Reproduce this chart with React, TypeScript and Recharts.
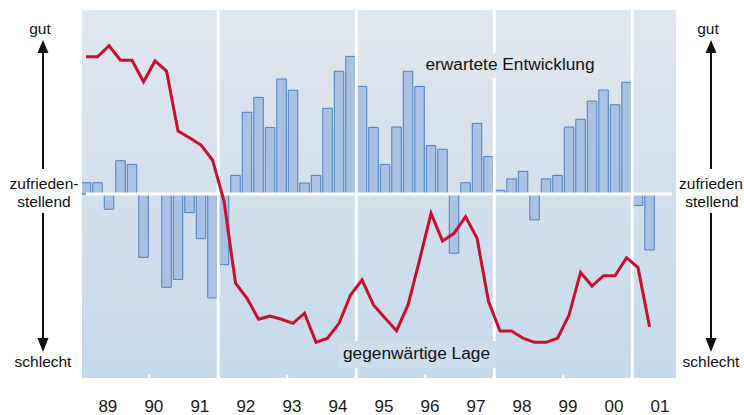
import { ComposedChart, Bar, Line, XAxis, YAxis, ReferenceLine } from 'recharts';

// quarterly index values, 89 Q1 .. 01 Q2 (0 = "zufriedenstellend")
const erwartet = [
  6.1, 6.1, -8.3, 18.1, 16.1, -34.4, 0, -50.7, -46.4, -10.1, -24.3, -56.5,
  -38.4, 10.1, 44.4, 52.5, 36.2, 62.5, 56.4, 6.0, 10.1, 46.6, 66.7, 74.8,
  58.5, 36.2, 16.1, 36.4, 66.7, 58.5, 26.3, 24.3, -32.2, 6.1, 38.4, 20.3,
  2.0, 8.2, 12.3, -14.1, 8.2, 10.1, 36.4, 40.6, 50.5, 56.5, 48.5, 60.7,
  -6.2, -30.4,
];

const lage = [
  74.6, 74.6, 80.6, 72.7, 72.7, 61.0, 72.3, 66.8, 34.2, 30.6, 26.6, 18.5,
  -4, -48.5, -56.7, -68.1, -66.3, -68.1, -70.3, -64.8, -80.6, -78.4, -70.3, -54.9,
  -46.7, -60.3, -67.4, -74.3, -60.3, -35.9, -10.5, -25.5, -21.4, -12.3, -24.1, -58.5,
  -74.5, -74.5, -78.4, -80.6, -80.6, -78.4, -65.8, -42.6, -50, -44.4, -44.4, -34.6,
  -40, -72.1,
];

const years = ['89', '90', '91', '92', '93', '94', '95', '96', '97', '98', '99', '00', '01'];

// white separators every three years, small ticks in between
const separators = [11.5, 23.5, 35.5, 47.5];
const minorTicks = [5.5, 17.5, 29.5, 41.5];

const W = 744;
const H = 415;
const FONT = '"Liberation Sans", Arial, sans-serif';

const data = erwartet.map((v, i) => ({ q: i, erwartet: v, lage: lage[i] }));
const yearTicks = years.map((_, k) => 1.9 + k * 4);

function Side({ cx, right }: { cx: number; right?: boolean }) {
  return (
    <g fontFamily={FONT} fontSize={15.5} fill="#111" textAnchor="middle">
      <text x={cx - 3} y={34}>gut</text>
      <polygon points={`${cx},40 ${cx - 5.5},53 ${cx + 5.5},53`} fill="#111" />
      <line x1={cx} y1={52} x2={cx} y2={169} stroke="#111" strokeWidth={2} />
      {/* the right-hand copy runs into the page edge, hyphen lost */}
      <text x={right ? cx : cx + 1} y={189}>{right ? 'zufrieden' : 'zufrieden-'}</text>
      <text x={cx + 1} y={207}>stellend</text>
      <line x1={cx} y1={213} x2={cx} y2={339} stroke="#111" strokeWidth={2} />
      <polygon points={`${cx},352 ${cx - 5.5},338 ${cx + 5.5},338`} fill="#111" />
      <text x={cx} y={367}>schlecht</text>
    </g>
  );
}

export default function App() {
  return (
    <div style={{ position: 'fixed', left: 0, top: 0, width: W, height: H, background: '#fff' }}>
      {/* plot background */}
      <div
        style={{
          position: 'absolute', left: 82, top: 10, width: 594, height: 368,
          background: 'linear-gradient(#e0e6ee, #c6daeb)',
        }}
      />
      <div style={{ position: 'absolute', left: 0, top: 0 }}>
        <ComposedChart width={W} height={H} data={data} margin={{ top: 10, right: 68, left: 82, bottom: 0 }}>
          <XAxis
            dataKey="q"
            type="number"
            domain={[-0.35, 51.3]}
            allowDataOverflow
            ticks={yearTicks}
            tickFormatter={(v: number) => years[Math.round((v - 1.9) / 4)]}
            axisLine={false}
            tickLine={false}
            tickMargin={16}
            height={37}
            tick={{ fontSize: 17, fill: '#1a1a1a', fontFamily: FONT }}
          />
          <YAxis hide domain={[-100, 100]} allowDataOverflow />
          {separators.map((x) => (
            <ReferenceLine key={x} x={x} stroke="#fff" strokeWidth={3} />
          ))}
          {minorTicks.map((x) => (
            <ReferenceLine
              key={'m' + x}
              segment={[{ x, y: -100 }, { x, y: -98.2 }]}
              stroke="#fff"
              strokeWidth={2}
            />
          ))}
          <Bar
            dataKey="erwartet"
            barSize={9.5}
            fill="#a9c2e3"
            stroke="#4a7fc3"
            strokeWidth={1}
            isAnimationActive={false}
          />
          <ReferenceLine
            segment={[{ x: 0, y: 0 }, { x: 50.96, y: 0 }]}
            stroke="#fff"
            strokeWidth={3}
            zIndex={350}
          />
          <Line
            dataKey="lage"
            type="linear"
            stroke="#c8102e"
            strokeWidth={3}
            dot={false}
            isAnimationActive={false}
          />
        </ComposedChart>
      </div>
      {/* labels and side annotations */}
      <svg
        width={W}
        height={H}
        style={{ position: 'absolute', left: 0, top: 0, pointerEvents: 'none', overflow: 'hidden' }}
      >
        <rect x={419} y={53} width={184} height={25} fill="#dee5ed" />
        <text x={425.5} y={70} fontFamily={FONT} fontSize={17.3} fill="#111">erwartete Entwicklung</text>
        <rect x={338} y={341} width={158} height={27} fill="#cddded" />
        <text x={343} y={358.5} fontFamily={FONT} fontSize={17.3} fill="#111">gegenwärtige Lage</text>
        <Side cx={43} />
        <Side cx={711} right />
      </svg>
    </div>
  );
}
